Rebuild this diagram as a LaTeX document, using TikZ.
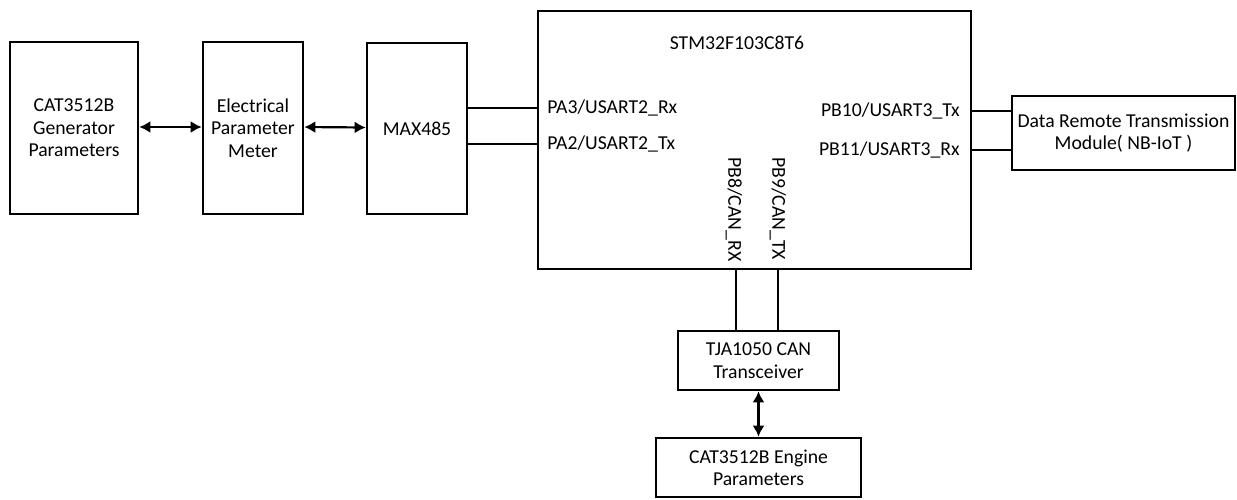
\documentclass[tikz,border=0pt]{standalone}
\usepackage{fontspec}
\setmainfont{Carlito}
\usetikzlibrary{arrows.meta}

\begin{document}
\begin{tikzpicture}[x=0.5pt, y=-0.5pt,
    blk/.style={draw, line width=1.3pt, align=center, inner sep=0pt},
    wire/.style={line width=1.1pt},
    link/.style={line width=1.1pt, {Latex[length=5.5pt,width=6pt]}-{Latex[length=5.5pt,width=6pt]}},
    pin/.style={inner sep=0pt}]
  \fontsize{9.85}{11.2}\selectfont
  \useasboundingbox (0,0) rectangle (1237,499);

  % Signal chain on the left
  \node[blk, minimum width=64pt, minimum height=86pt] (gen) at (74,128)
    {CAT3512B\\Generator\\Parameters};
  \node[blk, minimum width=50pt, minimum height=86pt] (meter) at (253,128)
    {Electrical\\Parameter\\Meter};
  \node[blk, minimum width=50pt, minimum height=85.5pt] (max) at (417,128.5) {MAX485};

  % Microcontroller
  \node[blk, minimum width=216.5pt, minimum height=129pt] (mcu) at (754.5,140) {};
  \node[pin] (title) at (737,43) {STM32F103C8T6};
  \node[pin, anchor=west] (pa3) at (547,108) {PA3/USART2\_Rx};
  \node[pin, anchor=west] (pa2) at (547,144) {PA2/USART2\_Tx};
  \node[pin, anchor=east] (pb10) at (960,111) {PB10/USART3\_Tx};
  \node[pin, anchor=east] (pb11) at (960,150) {PB11/USART3\_Rx};
  \node[pin, anchor=west, rotate=-90] (pb8) at (734,157) {PB8/CAN\_RX};
  \node[pin, anchor=west, rotate=-90] (pb9) at (778,157) {PB9/CAN\_TX};

  % Remote link and CAN side
  \node[blk, minimum width=111.5pt, minimum height=37pt] (nbiot) at (1123.5,133)
    {Data Remote Transmission\\Module( NB-IoT )};
  \node[blk, minimum width=80.5pt, minimum height=29.5pt] (tja) at (758.5,360.5)
    {TJA1050 CAN\\Transceiver};
  \node[blk, minimum width=102.5pt, minimum height=29.5pt] (eng) at (758.5,467.5)
    {CAT3512B Engine\\Parameters};

  % Connections
  \draw[link] ([yshift=0.5pt]gen.east) -- ([yshift=0.5pt]meter.west);
  \draw[link] ([yshift=0.5pt]meter.east) -- ([yshift=0.5pt]max.west);
  \draw[wire] (max.east |- pa3) -- (mcu.west |- pa3);
  \draw[wire] (max.east |- pa2) -- (mcu.west |- pa2);
  \draw[wire] (mcu.east |- pb10) -- (nbiot.west |- pb10);
  \draw[wire] (mcu.east |- pb11) -- (nbiot.west |- pb11);
  \draw[wire] (mcu.south -| 736,0) -- (tja.north -| 736,0);
  \draw[wire] (mcu.south -| pb9) -- (tja.north -| pb9);
  \draw[link] (tja.south) -- (eng.north);
\end{tikzpicture}
\end{document}
